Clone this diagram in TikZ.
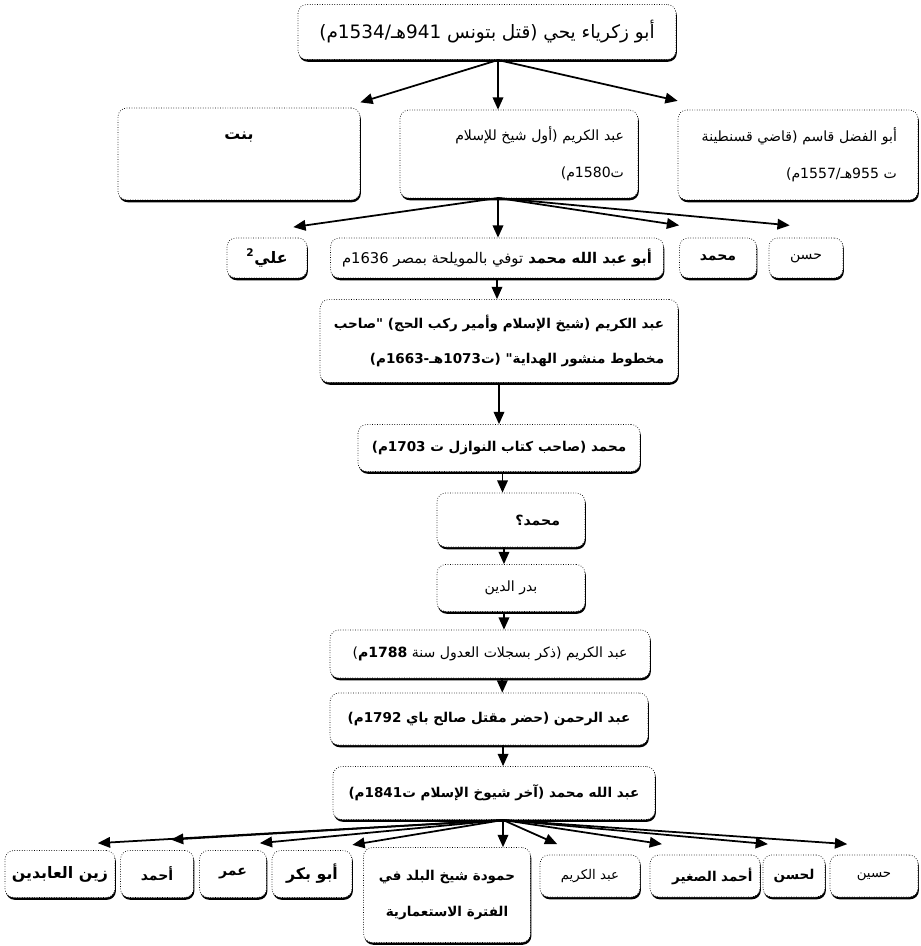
\documentclass[tikz,border=0pt]{standalone}
\usepackage{fontspec}
\newfontfamily\arabicfont[Script=Arabic]{DejaVu Sans}
\TeXXeTstate=1
\usetikzlibrary{arrows.meta}
\usetikzlibrary{shadows}
\tikzset{person/.style={draw,densely dotted,rounded corners=5pt,fill=white,
                        drop shadow={shadow xshift=.5pt,shadow yshift=-1.3pt,fill=black,opacity=1},
                        inner sep=3pt,font=\fontsize{8}{21}\selectfont\bfseries}}
\tikzset{light/.style={font=\fontsize{8}{21}\selectfont\mdseries}}
\tikzset{big/.style={font=\fontsize{9}{21}\selectfont\bfseries}}
\tikzset{small/.style={font=\fontsize{7.7}{20}\selectfont\bfseries}}
\tikzset{link/.style={-{Triangle[length=7pt,width=6pt]},line width=1pt}}
\newcommand{\artext}[1]{\arabicfont\beginR #1\endR}

\begin{document}
\begin{tikzpicture}[x=0.02cm,y=-0.02cm]
    \useasboundingbox (0,0) rectangle (920,946);
    % first generation
    \node[person,font=\fontsize{10.5}{21}\selectfont\mdseries,minimum width=7.56cm,minimum height=1.1cm]
          (yahya) at (487,32) {\artext{أبو زكرياء يحي (قتل بتونس 941هـ/1534م)}};
    \coordinate (j1) at (498,60);

    % his children
    \node[person,big,align=center,minimum width=4.84cm,minimum height=1.84cm]
          (bint) at (239,154) {\artext{بنت}\\\mbox{}};
    \node[person,light,align=right,text width=4.2cm,minimum width=4.76cm,minimum height=1.76cm]
          (karim1) at (519,154) {\artext{عبد الكريم (أول شيخ للإسلام}\\\artext{ت1580م)}};
    \node[person,light,align=right,text width=3.96cm,minimum width=4.8cm,minimum height=1.8cm]
          (qasim) at (798,155) {\artext{أبو الفضل قاسم (قاضي قسنطينة}\\\artext{ت 955هـ/1557م)}};
    \draw[link] (j1) -- ([yshift=3pt]bint.north east);
    \draw[link] (j1) -- (j1 |- karim1.north);
    \draw[link] (j1) -- ([yshift=5pt]qasim.north west);

    % third generation
    \coordinate (j2) at (498,198);
    \node[person,big,minimum width=1.6cm,minimum height=.8cm]
          (ali) at (267,258) {\artext{علي\textsuperscript{2}}};
    \node[person,font=\fontsize{8.4}{21}\selectfont\bfseries,minimum width=6.66cm,minimum height=.8cm]
          (abuabd) at (497,258) {\artext{أبو عبد الله محمد \mdseries توفي بالمويلحة بمصر 1636م}};
    \node[person,minimum width=1.54cm,minimum height=.8cm]
          (muhammad1) at (718,258) {\artext{محمد}};
    \node[person,light,minimum width=1.48cm,minimum height=.8cm]
          (hasan) at (806,258) {\artext{حسن}};
    \draw[link] (j2) -- ([xshift=-8pt,yshift=6pt]ali.north east);
    \draw[link] (j2) -- (j2 |- abuabd.north);
    \draw[link] (j2) -- ([yshift=7pt]muhammad1.north west);
    \draw[link] (j2) -- ([xshift=12pt,yshift=7pt]hasan.north west);

    % line down to the last shaykh
    \node[person,small,align=right,minimum width=7.16cm,minimum height=1.66cm]
          (karim2) at (499,341) {\artext{عبد الكريم (شيخ الإسلام وأمير ركب الحج) "صاحب}\\\artext{مخطوط منشور الهداية" (ت1073هـ-1663م)}};
    \node[person,small,minimum width=5.64cm,minimum height=.94cm]
          (muhammad2) at (499,448) {\artext{محمد (صاحب كتاب النوازل ت 1703م)}};
    \node[person,align=right,text width=1.96cm,minimum width=2.96cm,minimum height=1.08cm]
          (muhammad3) at (511,520) {\artext{محمد؟}};
    \node[person,light,minimum width=2.96cm,minimum height=.94cm]
          (badr) at (511,588) {\artext{بدر الدين}};
    \node[person,light,minimum width=6.4cm,minimum height=.96cm]
          (karim3) at (490,654) {\artext{عبد الكريم (ذكر بسجلات العدول سنة \textbf{1788م})}};
    \node[person,small,minimum width=6.36cm,minimum height=1.04cm]
          (rahman) at (489,719) {\artext{عبد الرحمن (حضر مقتل صالح باي 1792م)}};
    \node[person,small,minimum width=6.44cm,minimum height=1.06cm]
          (abdallah) at (494,793) {\artext{عبد الله محمد (آخر شيوخ الإسلام ت1841م)}};
    \draw[link] (abuabd.south) -- (abuabd.south |- karim2.north);
    \draw[link] (karim2.south) -- (karim2.south |- muhammad2.north);
    \draw[link] ([xshift=2pt]muhammad2.south) -- ([xshift=2pt]muhammad2.south |- muhammad3.north);
    \draw[link] ([xshift=-4pt]muhammad3.south) -- ([xshift=-4pt]muhammad3.south |- badr.north);
    \draw[link] ([xshift=-4pt]badr.south) -- ([xshift=-4pt]badr.south |- karim3.north);
    \draw[link] ([xshift=7pt]karim3.south) -- ([xshift=7pt]karim3.south |- rahman.north);
    \draw[link] ([xshift=8pt]rahman.south) -- ([xshift=8pt]rahman.south |- abdallah.north);

    % last generation
    \coordinate (j3) at (503,820);
    \node[person,big,minimum width=2.2cm,minimum height=.94cm]  (zayn) at (60,874) {\artext{زين العابدين}};
    \node[person,minimum width=1.46cm,minimum height=.94cm] (ahmad) at (157,874) {\artext{أحمد}};
    \node[person,minimum width=1.34cm,minimum height=.94cm] (umar) at (233,874) {\artext{عمر}};
    \node[person,big,minimum width=1.6cm,minimum height=.94cm]  (abubakr) at (312,874) {\artext{أبو بكر}};
    \node[person,small,align=center,minimum width=3.34cm,minimum height=1.9cm]
          (hamuda) at (447,895) {\artext{حمودة شيخ البلد في}\\\artext{الفترة الاستعمارية}};
    \node[person,font=\fontsize{7.6}{20}\selectfont\mdseries,minimum width=2cm,minimum height=.84cm]
          (karim4) at (590,876) {\artext{عبد الكريم}};
    \node[person,small,align=right,text width=1.9cm,minimum width=2.2cm,minimum height=.84cm]
          (saghir) at (705,876) {\artext{أحمد الصغير}};
    \node[person,small,minimum width=1.24cm,minimum height=.84cm] (lhasan) at (794,876) {\artext{لحسن}};
    \node[person,font=\fontsize{7.6}{20}\selectfont\mdseries,minimum width=1.76cm,minimum height=.84cm]
          (husayn) at (874,876) {\artext{حسين}};
    \draw[link] (j3) -- ([xshift=-10pt,yshift=4pt]zayn.north east);
    \draw[link] (j3) -- ([xshift=-13pt,yshift=6pt]ahmad.north east);
    \draw[link] (j3) -- ([xshift=-4pt,yshift=4pt]umar.north east);
    \draw[link] (j3) -- ([yshift=3pt]abubakr.north east);
    \draw[link] (j3) -- (j3 |- hamuda.north);
    \draw[link] (j3) -- ([xshift=10pt,yshift=6pt]karim4.north west);
    \draw[link] (j3) -- ([xshift=7pt,yshift=6pt]saghir.north west);
    \draw[link] (j3) -- ([xshift=3pt,yshift=6pt]lhasan.north west);
    \draw[link] (j3) -- ([xshift=10pt,yshift=6pt]husayn.north west);
\end{tikzpicture}
\end{document}
